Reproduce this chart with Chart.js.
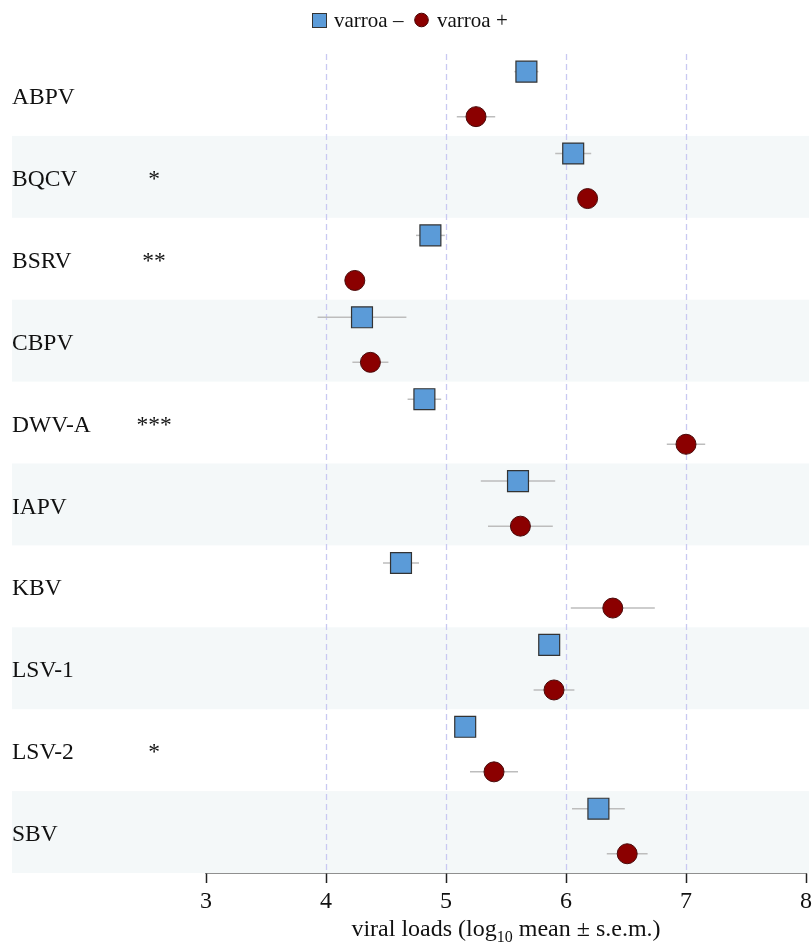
<!DOCTYPE html>
<html>
<head>
<meta charset="utf-8">
<script src="https://cdn.jsdelivr.net/npm/chart.js@4.4.1/dist/chart.umd.min.js"></script>
<style>
  html, body { margin: 0; padding: 0; background: #fff; }
  #wrap { width: 812px; height: 948px; }
</style>
</head>
<body>
<div id="wrap"><canvas id="c" width="812" height="948"></canvas></div>
<script>
// viruses top to bottom, with significance stars
const viruses = ["ABPV", "BQCV", "BSRV", "CBPV", "DWV-A", "IAPV", "KBV", "LSV-1", "LSV-2", "SBV"];
const stars = ["", "*", "**", "", "***", "", "", "", "*", ""];

// varroa - (squares)
const negMean = [5.67, 6.06, 4.87, 4.30, 4.82, 5.60, 4.625, 5.86, 5.16, 6.27];
const negSem = [0.10, 0.15, 0.12, 0.37, 0.14, 0.31, 0.15, 0.08, 0.08, 0.22];

// varroa + (circles)
const posMean = [5.25, 6.18, 4.24, 4.37, 7.00, 5.62, 6.39, 5.90, 5.40, 6.51];
const posSem = [0.16, 0.08, 0.08, 0.15, 0.16, 0.27, 0.35, 0.17, 0.20, 0.17];

const xTicks = [3, 4, 5, 6, 7, 8];
const gridAt = [4, 5, 6, 7];

const SERIF = "'Liberation Serif', 'DejaVu Serif', serif";

// row offset inside each band
const SQ_OFF = 0.215;
const CI_OFF = 0.765;

const negPts = negMean.map((v, i) => ({ x: v, y: i + SQ_OFF }));
const posPts = posMean.map((v, i) => ({ x: v, y: i + CI_OFF }));

const backdrop = {
    id: "backdrop",
    beforeDatasetsDraw(chart) {
        const { ctx, chartArea, scales } = chart;
        const x = scales.x, y = scales.y;
        ctx.save();
        // alternating bands
        ctx.fillStyle = "#f4f8f9";
        viruses.forEach((_, i) => {
            if (i % 2 === 1) {
                const t = y.getPixelForValue(i);
                const b = y.getPixelForValue(i + 1);
                ctx.fillRect(12, t, 809 - 12, b - t);
            }
        });
        // dashed grid
        ctx.strokeStyle = "#c9c9f2";
        ctx.lineWidth = 1.3;
        ctx.setLineDash([6, 4]);
        gridAt.forEach((g) => {
            const px = Math.round(x.getPixelForValue(g)) + 0.5;
            ctx.beginPath();
            ctx.moveTo(px, chartArea.top);
            ctx.lineTo(px, chartArea.bottom);
            ctx.stroke();
        });
        ctx.setLineDash([]);
        // error bars
        ctx.strokeStyle = "#bdbdbd";
        ctx.lineWidth = 1.5;
        const bars = (means, sems, off) => {
            means.forEach((m, i) => {
                const py = y.getPixelForValue(i + off);
                ctx.beginPath();
                ctx.moveTo(x.getPixelForValue(m - sems[i]), py);
                ctx.lineTo(x.getPixelForValue(m + sems[i]), py);
                ctx.stroke();
            });
        };
        bars(negMean, negSem, SQ_OFF);
        bars(posMean, posSem, CI_OFF);
        // row labels and stars
        ctx.fillStyle = "#111";
        ctx.font = "23.5px " + SERIF;
        ctx.textBaseline = "alphabetic";
        viruses.forEach((v, i) => {
            const base = y.getPixelForValue(i) + 50;
            ctx.textAlign = "left";
            ctx.fillText(v, 12, base);
            if (stars[i]) {
                ctx.textAlign = "center";
                ctx.fillText(stars[i], 154, base);
            }
        });
        ctx.restore();
    },
    afterDraw(chart) {
        const { ctx, chartArea } = chart;
        ctx.save();
        // legend
        ctx.fillStyle = "#5b9bd8";
        ctx.strokeStyle = "#333";
        ctx.lineWidth = 1;
        ctx.fillRect(312, 13, 15, 15);
        ctx.strokeRect(312.5, 13.5, 14, 14);
        ctx.font = "21px " + SERIF;
        ctx.fillStyle = "#111";
        ctx.textBaseline = "alphabetic";
        ctx.textAlign = "left";
        ctx.fillText("varroa \u2013", 334, 27);
        ctx.beginPath();
        ctx.arc(421.5, 20, 6.8, 0, Math.PI * 2);
        ctx.fillStyle = "#8b0000";
        ctx.fill();
        ctx.strokeStyle = "#4a0000";
        ctx.stroke();
        ctx.fillStyle = "#111";
        ctx.fillText("varroa +", 437, 27);

        // axis title with subscript
        const mainF = "24px " + SERIF;
        const subF = "16px " + SERIF;
        const p1 = "viral loads (log";
        const p2 = "10";
        const p3 = " mean \u00b1 s.e.m.)";
        ctx.font = mainF;
        const w1 = ctx.measureText(p1).width;
        const w3 = ctx.measureText(p3).width;
        ctx.font = subF;
        const w2 = ctx.measureText(p2).width;
        const total = w1 + w2 + w3;
        let sx = (chartArea.left + chartArea.right) / 2 - total / 2;
        const base = 936;
        ctx.font = mainF;
        ctx.fillText(p1, sx, base);
        sx += w1;
        ctx.font = subF;
        ctx.fillText(p2, sx, base + 6);
        sx += w2;
        ctx.font = mainF;
        ctx.fillText(p3, sx, base);
        ctx.restore();
    },
};

new Chart(document.getElementById("c"), {
    type: "scatter",
    data: {
        datasets: [
            {
                label: "varroa \u2013",
                data: negPts,
                pointStyle: "rect",
                pointRadius: 14.8,
                pointHoverRadius: 14.8,
                backgroundColor: "#5b9bd8",
                borderColor: "#333333",
                borderWidth: 1.2,
            },
            {
                label: "varroa +",
                data: posPts,
                pointStyle: "circle",
                pointRadius: 10,
                pointHoverRadius: 10,
                backgroundColor: "#8b0000",
                borderColor: "#4a0a0a",
                borderWidth: 1,
            },
        ],
    },
    options: {
        responsive: false,
        animation: false,
        events: [],
        layout: {
            autoPadding: false,
            padding: { left: 206, right: 6, top: 54, bottom: 0 },
        },
        plugins: {
            legend: { display: false },
            tooltip: { enabled: false },
        },
        scales: {
            x: {
                type: "linear",
                min: 3,
                max: 8,
                afterFit: (s) => {
                    s.height = 75;
                    s.paddingLeft = 0;
                    s.paddingRight = 0;
                },
                afterBuildTicks: (s) => { s.ticks = xTicks.map((v) => ({ value: v })); },
                grid: {
                    drawOnChartArea: false,
                    drawTicks: true,
                    tickLength: 10,
                    tickColor: "#222",
                    tickWidth: 1.5,
                },
                border: { display: true, color: "#222", width: 1.5 },
                ticks: {
                    color: "#111",
                    padding: 4,
                    font: { family: SERIF, size: 24 },
                },
            },
            y: {
                type: "linear",
                display: false,
                min: 0,
                max: 10,
                reverse: true,
            },
        },
    },
    plugins: [backdrop],
});
</script>
</body>
</html>
